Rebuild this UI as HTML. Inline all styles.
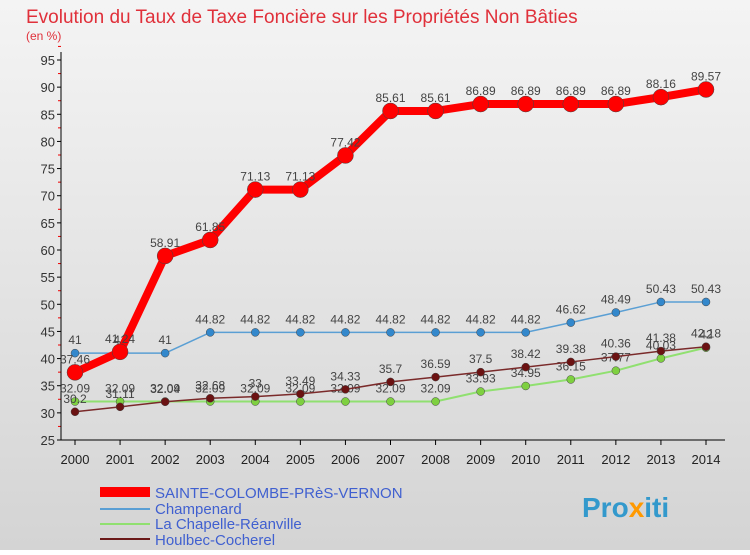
<!DOCTYPE html>
<html><head><meta charset="utf-8"><style>
body{margin:0;width:750px;height:550px;overflow:hidden;font-family:"Liberation Sans",sans-serif}
svg text{font-family:"Liberation Sans",sans-serif}
</style></head><body>
<svg id="c" width="750" height="550" xmlns="http://www.w3.org/2000/svg">
<defs><linearGradient id="bg" x1="0" y1="0" x2="0" y2="1"><stop offset="0" stop-color="#f4f4f4"/><stop offset="1" stop-color="#d4d4d4"/></linearGradient></defs>
<rect width="750" height="550" fill="url(#bg)"/>
<text x="26" y="23" font-size="19" fill="#e0303a">Evolution du Taux de Taxe Foncière sur les Propriétés Non Bâties</text>
<text x="26" y="40" font-size="12" fill="#e0303a">(en %)</text>
<g id="axes"></g><g id="series"></g>
<g>
<rect x="100" y="487" width="50" height="10" fill="#ff0000"/>
<text x="155" y="498" font-size="15" fill="#4060d0">SAINTE-COLOMBE-PRèS-VERNON</text>
<line x1="100" y1="509" x2="150" y2="509" stroke="#5a9fd4" stroke-width="2"/>
<text x="155" y="514" font-size="15" fill="#4060d0">Champenard</text>
<line x1="100" y1="524" x2="150" y2="524" stroke="#90e070" stroke-width="2"/>
<text x="155" y="529" font-size="15" fill="#4060d0">La Chapelle-Réanville</text>
<line x1="100" y1="539" x2="150" y2="539" stroke="#6b1a1a" stroke-width="2"/>
<text x="155" y="545" font-size="15" fill="#4060d0">Houlbec-Cocherel</text>
</g>
<text x="582" y="517" font-size="28" font-weight="bold" fill="#3399cc">Pro<tspan fill="#ff9900">x</tspan>iti</text>
</svg>
<script>
const years=[2000,2001,2002,2003,2004,2005,2006,2007,2008,2009,2010,2011,2012,2013,2014];
const yTicks=[25,30,35,40,45,50,55,60,65,70,75,80,85,90,95];
const red=[37.46,41.24,58.91,61.85,71.13,71.13,77.42,85.61,85.61,86.89,86.89,86.89,86.89,88.16,89.57];
const blue=[41,41,41,44.82,44.82,44.82,44.82,44.82,44.82,44.82,44.82,46.62,48.49,50.43,50.43];
const green=[32.09,32.09,32.09,32.09,32.09,32.09,32.09,32.09,32.09,33.93,34.95,36.15,37.77,40.03,42];
const brown=[30.2,31.11,32.04,32.68,33,33.49,34.33,35.7,36.59,37.5,38.42,39.38,40.36,41.38,42.18];
const NS="http://www.w3.org/2000/svg";
const X=i=>75+i*(706-75)/14;
const Y=v=>440-(v-25)*(440-60)/70;
function mk(t,a,p){const e=document.createElementNS(NS,t);for(const k in a)e.setAttribute(k,a[k]);p.appendChild(e);return e;}
const ax=document.getElementById('axes');
yTicks.forEach(v=>{
 const l=mk('line',{x1:57,x2:61,y1:Y(v),y2:Y(v),stroke:'#000'},ax);
 
 
 const m=mk('line',{x1:58,x2:61,y1:Y(v+2.5),y2:Y(v+2.5),stroke:'#e00'},ax);
 
 
 const t=mk('text',{x:55,y:Y(v)+5,'font-size':13,'text-anchor':'end',fill:'#333'},ax);t.textContent=v;
 
 
});
const ya=mk('line',{x1:61,x2:61,y1:52,y2:440,stroke:'#000'},ax);


const xa=mk('line',{x1:61,x2:725,y1:440,y2:440,stroke:'#000'},ax);


years.forEach((y,i)=>{
 const l=mk('line',{x1:X(i),x2:X(i),y1:440,y2:445,stroke:'#000'},ax);
 
 
 const t=mk('text',{x:X(i),y:464,'font-size':13,'text-anchor':'middle',fill:'#222'},ax);t.textContent=y;
 
 
});
const sg=document.getElementById('series');
function series(d,name,col,w,r,dot){
 const g=mk('g',{},sg);
 
 
 const p=mk('polyline',{points:d.map((v,i)=>X(i)+','+Y(v)).join(' '),fill:'none',stroke:col,'stroke-width':w,'stroke-linejoin':'round'},g);
 
 
 d.forEach((v,i)=>{
  const c=mk('circle',{cx:X(i),cy:Y(v),r:r,fill:dot,stroke:'#444','stroke-width':0.5},g);
  
  
  const t=mk('text',{x:X(i),y:Y(v)-9,'font-size':12,'text-anchor':'middle',fill:'#444'},g);t.textContent=v;
  
  
 });
}
series(green,'la-chapelle','#90e070',2,4,'#7ed040');
series(brown,'houlbec','#7a2a2a',1.5,4,'#6b1212');
series(blue,'champenard','#5a9fd4',1.5,4,'#3388cc');
series(red,'sainte-colombe','#ff0000',8,8,'#ff0000');
</script>
</body></html>
